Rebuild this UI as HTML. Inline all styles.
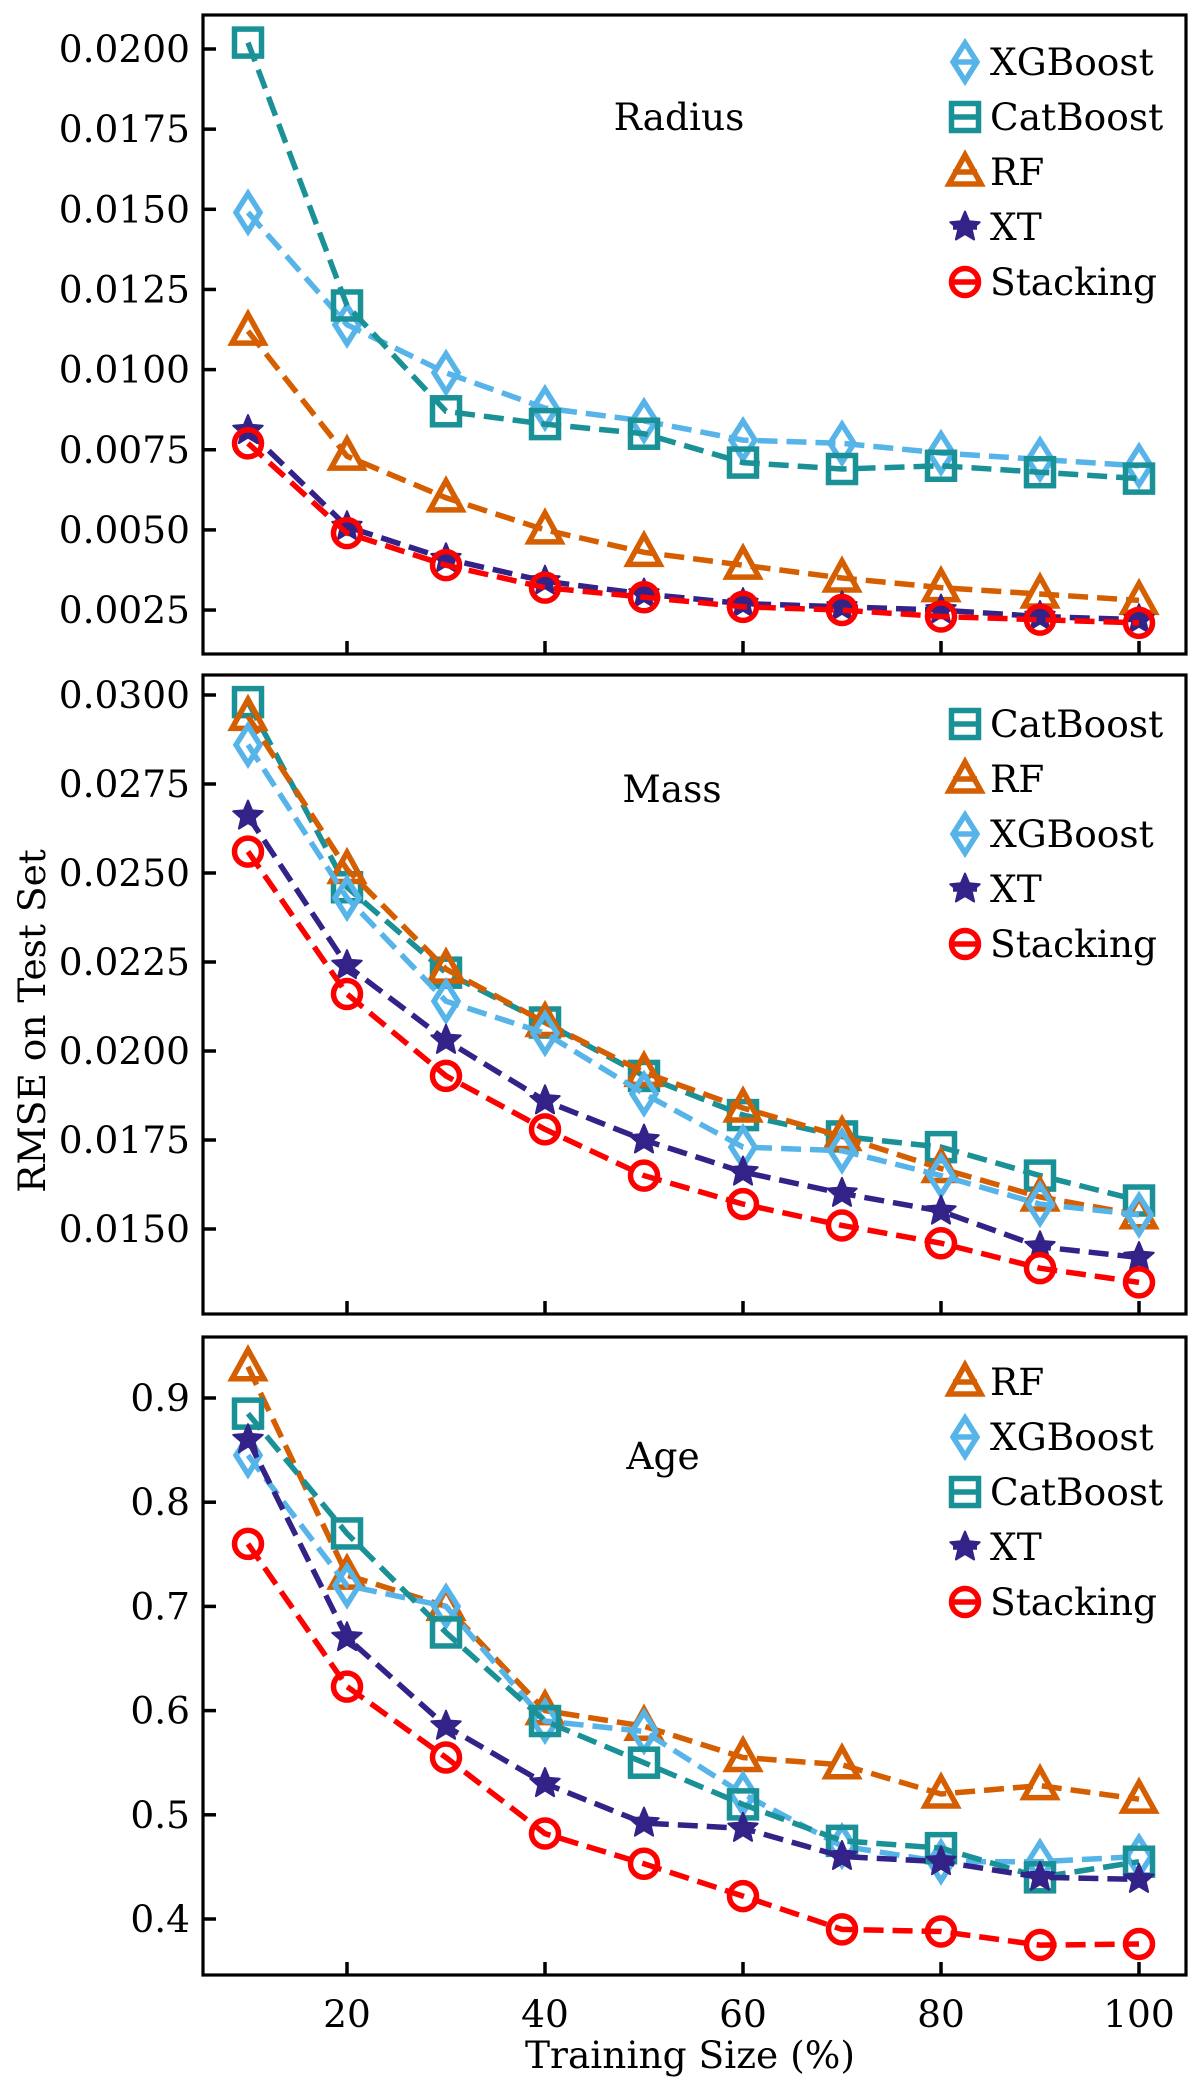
<!DOCTYPE html>
<html><head><meta charset="utf-8">
<style>
html,body{margin:0;padding:0;background:#fff;}
svg text{font-family:"DejaVu Serif","Liberation Serif",serif;fill:#000;}
</style></head>
<body>
<svg id="fig" xmlns="http://www.w3.org/2000/svg" width="1200" height="2084" viewBox="0 0 1200 2084"></svg>
<script>
const xValues = [10,20,30,40,50,60,70,80,90,100];
const xTicks = [20,40,60,80,100];

const radiusXGBoost  = [0.0149,0.0114,0.0099,0.0088,0.0084,0.0078,0.0077,0.0074,0.0072,0.0070];
const radiusCatBoost = [0.0202,0.0120,0.0087,0.0083,0.0080,0.0071,0.0069,0.0070,0.0068,0.0066];
const radiusRF       = [0.0112,0.0073,0.0060,0.0050,0.0043,0.0039,0.0035,0.0032,0.0030,0.0028];
const radiusXT       = [0.0081,0.0051,0.0041,0.0034,0.0030,0.0027,0.0026,0.0025,0.0023,0.0022];
const radiusStacking = [0.0077,0.0049,0.0039,0.0032,0.0029,0.0026,0.0025,0.0023,0.0022,0.0021];
const radiusTicks = ["0.0025","0.0050","0.0075","0.0100","0.0125","0.0150","0.0175","0.0200"];

const massCatBoost = [0.0298,0.0246,0.0222,0.0208,0.0193,0.0182,0.0176,0.0173,0.0165,0.0158];
const massRF       = [0.0294,0.0251,0.0223,0.0208,0.0194,0.0184,0.0176,0.0167,0.0159,0.0154];
const massXGBoost  = [0.0286,0.0243,0.0214,0.0205,0.0188,0.0173,0.0172,0.0165,0.0157,0.0154];
const massXT       = [0.0266,0.0224,0.0203,0.0186,0.0175,0.0166,0.0160,0.0155,0.0145,0.0142];
const massStacking = [0.0256,0.0216,0.0193,0.0178,0.0165,0.0157,0.0151,0.0146,0.0139,0.0135];
const massTicks = ["0.0150","0.0175","0.0200","0.0225","0.0250","0.0275","0.0300"];

const ageRF       = [0.93,0.73,0.70,0.60,0.585,0.555,0.548,0.52,0.528,0.515];
const ageXGBoost  = [0.845,0.72,0.70,0.59,0.58,0.52,0.47,0.455,0.455,0.46];
const ageCatBoost = [0.885,0.77,0.675,0.59,0.55,0.51,0.475,0.468,0.44,0.455];
const ageXT       = [0.86,0.67,0.585,0.53,0.492,0.487,0.46,0.455,0.44,0.438];
const ageStacking = [0.76,0.623,0.555,0.482,0.453,0.422,0.39,0.388,0.375,0.376];
const ageTicks = ["0.4","0.5","0.6","0.7","0.8","0.9"];

const NS="http://www.w3.org/2000/svg";
const svg=document.getElementById('fig');
function mk(tag,attrs,parent){const e=document.createElementNS(NS,tag);for(const k in attrs)e.setAttribute(k,attrs[k]);(parent||svg).appendChild(e);return e;}

const COL={XGBoost:"#56B4E9",CatBoost:"#1a9196",RF:"#D55E00",XT:"#332288",Stacking:"#ff0000"};
const MK={XGBoost:"diamond",CatBoost:"square",RF:"triangle",XT:"star",Stacking:"circle"};

const xLeft=203,xRight=1186;
const FS=37.5;
function xScale(v){return 347+(v-20)*9.9;}

function marker(g,type,cx,cy,color){
  const sw=5.5;
  if(type==="diamond"){
    mk('polygon',{points:`${cx},${cy-19} ${cx+12},${cy} ${cx},${cy+19} ${cx-12},${cy}`,fill:'none',stroke:color,'stroke-width':sw,'stroke-linejoin':'miter'},g);
  }else if(type==="square"){
    mk('rect',{x:cx-13.5,y:cy-13.5,width:27,height:27,fill:'none',stroke:color,'stroke-width':sw},g);
  }else if(type==="triangle"){
    mk('polygon',{points:`${cx},${cy-17} ${cx+16},${cy+12} ${cx-16},${cy+12}`,fill:'none',stroke:color,'stroke-width':sw},g);
  }else if(type==="star"){
    let p=[];for(let i=0;i<10;i++){const r=i%2?7:15.5;const a=-Math.PI/2+i*Math.PI/5;p.push((cx+r*Math.cos(a)).toFixed(1)+","+(cy+r*Math.sin(a)).toFixed(1));}
    mk('polygon',{points:p.join(" "),fill:color,stroke:color,'stroke-width':2,'stroke-linejoin':'round'},g);
  }else{
    mk('circle',{cx:cx,cy:cy,r:13.5,fill:'none',stroke:color,'stroke-width':sw},g);
  }
}

function panel(cfg){
  const g=mk('g',{});
  
  
  const yScale=v=>cfg.y0+(v-cfg.v0)*cfg.k;
  cfg.series.forEach(s=>{
    const sg=mk('g',{},g);
    
    
    const pts=xValues.map((x,i)=>xScale(x).toFixed(1)+","+yScale(s.data[i]).toFixed(1)).join(" ");
    const ln=mk('polyline',{points:pts,fill:'none',stroke:COL[s.key],'stroke-width':5.5,'stroke-dasharray':'20 9'},sg);
    
    
    xValues.forEach((x,i)=>marker(sg,MK[s.key],xScale(x),yScale(s.data[i]),COL[s.key]));
  });
  const fr=mk('rect',{x:xLeft,y:cfg.top,width:xRight-xLeft,height:cfg.bottom-cfg.top,fill:'none',stroke:'#000','stroke-width':3.2},g);
  
  
  cfg.ticks.forEach(t=>{
    const y=yScale(parseFloat(t));
    mk('line',{x1:xLeft,x2:xLeft+13,y1:y,y2:y,stroke:'#000','stroke-width':3.5},g);
    const tx=mk('text',{x:190,y:y+13,'text-anchor':'end','font-size':FS},g);
    tx.textContent=t;
    
    
  });
  xTicks.forEach(t=>{
    const x=xScale(t);
    mk('line',{x1:x,x2:x,y1:cfg.bottom,y2:cfg.bottom-13,stroke:'#000','stroke-width':3.5},g);
    if(cfg.xlabels){
      const tx=mk('text',{x:x,y:2027,'text-anchor':'middle','font-size':FS},g);
      tx.textContent=String(t);
      
      
    }
  });
  const ti=mk('text',{x:cfg.titleX,y:cfg.titleY,'text-anchor':'middle','font-size':FS},g);
  ti.textContent=cfg.title;
  
  
  const lg=mk('g',{},g);
  
  
  cfg.legend.forEach((key,i)=>{
    const y=cfg.legY+i*55;
    const eg=mk('g',{},lg);
    
    
    mk('line',{x1:953,x2:977,y1:y,y2:y,stroke:COL[key],'stroke-width':5.5},eg);
    marker(eg,MK[key],965,y,COL[key]);
    const tx=mk('text',{x:990,y:y+13,'font-size':FS},eg);
    tx.textContent=key;
  });
}

panel({name:'radius',top:15,bottom:654,v0:0.0200,y0:49,k:-32060,ticks:radiusTicks,title:'Radius',titleX:679,titleY:130,legY:62,
  legend:['XGBoost','CatBoost','RF','XT','Stacking'],
  series:[{key:'XGBoost',data:radiusXGBoost},{key:'CatBoost',data:radiusCatBoost},{key:'RF',data:radiusRF},{key:'XT',data:radiusXT},{key:'Stacking',data:radiusStacking}]});
panel({name:'mass',top:675,bottom:1314,v0:0.0300,y0:695,k:-35600,ticks:massTicks,title:'Mass',titleX:672,titleY:802,legY:724,
  legend:['CatBoost','RF','XGBoost','XT','Stacking'],
  series:[{key:'CatBoost',data:massCatBoost},{key:'RF',data:massRF},{key:'XGBoost',data:massXGBoost},{key:'XT',data:massXT},{key:'Stacking',data:massStacking}]});
panel({name:'age',top:1337,bottom:1975,v0:0.9,y0:1398,k:-1042,ticks:ageTicks,title:'Age',titleX:663,titleY:1469,legY:1382,xlabels:true,
  legend:['RF','XGBoost','CatBoost','XT','Stacking'],
  series:[{key:'RF',data:ageRF},{key:'XGBoost',data:ageXGBoost},{key:'CatBoost',data:ageCatBoost},{key:'XT',data:ageXT},{key:'Stacking',data:ageStacking}]});

const yl=mk('text',{x:0,y:0,'text-anchor':'middle','font-size':FS,transform:'translate(45,1021) rotate(-90)'});
yl.textContent='RMSE on Test Set';


const xl=mk('text',{x:690,y:2068,'text-anchor':'middle','font-size':FS});
xl.textContent='Training Size (%)';


</script>
</body></html>
